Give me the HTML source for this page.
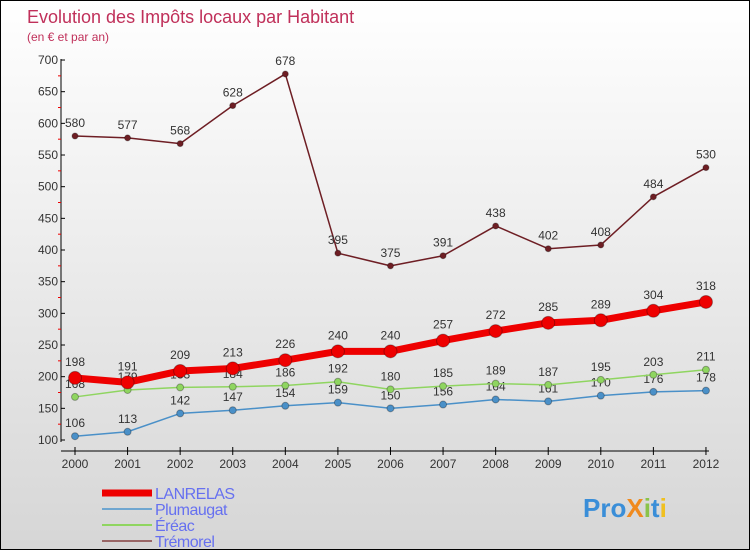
<!DOCTYPE html>
<html><head><meta charset="utf-8"><style>
body{margin:0;width:750px;height:550px;overflow:hidden;font-family:"Liberation Sans",sans-serif}
#c{position:absolute;left:0;top:0;width:748px;height:548px;border:1px solid #000;background:linear-gradient(#ffffff,#d6d6d6)}
</style></head><body>
<div id="c">
<svg width="748" height="548" id="svg" xmlns="http://www.w3.org/2000/svg"></svg>
</div>
<script>
const years=[2000,2001,2002,2003,2004,2005,2006,2007,2008,2009,2010,2011,2012];
const lanrelas=[198,191,209,213,226,240,240,257,272,285,289,304,318];
const plumaugat=[106,113,142,147,154,159,150,156,164,161,170,176,178];
const ereac=[168,179,183,184,186,192,180,185,189,187,195,203,211];
const tremorel=[580,577,568,628,678,395,375,391,438,402,408,484,530];
const yTicks=[100,150,200,250,300,350,400,450,500,550,600,650,700];
const svg=document.getElementById('svg');
const NS='http://www.w3.org/2000/svg';
const X=i=>74+i*52.58, Y=v=>439-(v-100)*0.6333;
function el(t,a,name,txt){const e=document.createElementNS(NS,t);for(const k in a)e.setAttribute(k,a[k]);


if(txt!==undefined)e.textContent=txt;svg.appendChild(e);return e;}
el('text',{x:26,y:22,'font-size':18,fill:'#c0305a'},'chart-title','Evolution des Impôts locaux par Habitant');
el('text',{x:26,y:40,'font-size':12,fill:'#c0305a'},'chart-subtitle','(en € et par an)');
el('line',{x1:60,y1:58,x2:60,y2:441,stroke:'#000'},'y-axis');
yTicks.forEach(v=>{el('line',{x1:60,y1:Y(v),x2:64,y2:Y(v),stroke:'#000'},'y-tick');
el('text',{x:57,y:Y(v)+4,'font-size':12,'text-anchor':'end',fill:'#333'},'y-tick-label',v);
if(v<700)el('line',{x1:57,y1:Y(v+25),x2:60,y2:Y(v+25),stroke:'#e00'},'y-minor-tick');});
el('line',{x1:60,y1:450,x2:708,y2:450,stroke:'#000'},'x-axis');
years.forEach((y,i)=>{el('line',{x1:X(i),y1:446,x2:X(i),y2:454,stroke:'#000'},'x-tick');
el('text',{x:X(i),y:467,'font-size':12,'text-anchor':'middle',fill:'#333'},'x-tick-label',y);});
function series(d,col,w,r,name,dy){
el('polyline',{points:d.map((v,i)=>X(i)+','+Y(v)).join(' '),fill:'none',stroke:col,'stroke-width':w,'stroke-linejoin':'round'},name+'-line');
d.forEach((v,i)=>{el('circle',{cx:X(i),cy:Y(v),r:r,fill:col,stroke:'rgba(0,0,0,0.3)'},name+'-point');
el('text',{x:X(i),y:Y(v)-dy,'font-size':12,'text-anchor':'middle',fill:'#333'},name+'-value-label',v);});}
series(tremorel,'#6e1e24',1.5,3,'tremorel',9);
series(plumaugat,'#4a90c8',1.5,3.5,'plumaugat',9);
series(ereac,'#8fd560',1.5,3.5,'ereac',9);
series(lanrelas,'#ee0000',7,6.5,'lanrelas',12);
const leg=[['LANRELAS','#ee0000',7],['Plumaugat','#6fa6d0',2],['Éréac','#8fd560',2],['Trémorel','#996666',2]];
leg.forEach((l,i)=>{const y=492+i*16;el('line',{x1:101,y1:y,x2:151,y2:y,stroke:l[1],'stroke-width':l[2]},'legend-swatch');
el('text',{x:154,y:y+6,'font-size':16,'letter-spacing':'-0.5',fill:'#6670f0'},'legend-entry',l[0]);});
const logo=el('text',{x:582,y:516,'font-size':26,'font-weight':'bold'},'proxiti-logo');
[['Pro','#3a8ed8'],['X','#f08a1e'],['i','#8bc34a'],['t','#3a8ed8'],['i','#f0c020']].forEach(p=>{const s=document.createElementNS(NS,'tspan');s.setAttribute('fill',p[1]);s.textContent=p[0];logo.appendChild(s);});
</script>
</body></html>
